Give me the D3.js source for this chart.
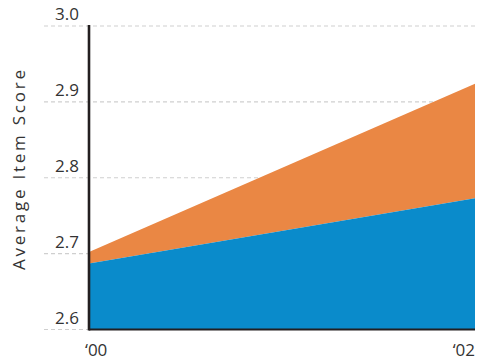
<!DOCTYPE html>
<html>
<head>
<meta charset="utf-8">
<script src="https://cdn.jsdelivr.net/npm/d3@7"></script>
<style>
  html, body { margin: 0; padding: 0; background: #fff; }
  svg { display: block; }
  text { font-family: "Open Sans", Lato, "DejaVu Sans", sans-serif; fill: #333; }
</style>
</head>
<body>
<svg id="chart" width="477" height="362"></svg>
<script>
// Years on the x axis and their labels
const years = [2000, 2002];
const yearLabels = ["\u201800", "\u201802"];
// Average item score: lower (blue) series and upper (orange) series
const baseScores = [2.687, 2.773];
const topScores = [2.702, 2.924];
// Y axis ticks
const yTicks = [2.6, 2.7, 2.8, 2.9, 3.0];

const svg = d3.select("#chart");
const plotLeft = 89, plotRight = 475, plotTop = 26, plotBottom = 329.5;

const x = d3.scaleLinear().domain(d3.extent(years)).range([plotLeft, plotRight]);
const y = d3.scaleLinear().domain([2.6, 3.0]).range([plotBottom, plotTop]);

// Dashed gridlines
svg.append("g").selectAll("line").data(yTicks).join("line")
  .attr("x1", 44).attr("x2", plotRight)
  .attr("y1", d => y(d)).attr("y2", d => y(d))
  .attr("stroke", "#cfcfcf").attr("stroke-width", 1.2)
  .attr("stroke-dasharray", "4,3");

const rows = years.map((yr, i) => ({ yr, base: baseScores[i], upper: topScores[i] }));

// Orange band between the two series
svg.append("path").datum(rows)
  .attr("fill", "#EA8744")
  .attr("d", d3.area().x(d => x(d.yr)).y0(d => y(d.base)).y1(d => y(d.upper)));

// Blue area from the baseline up to the lower series
svg.append("path").datum(rows)
  .attr("fill", "#0A8BCB")
  .attr("d", d3.area().x(d => x(d.yr)).y0(y(2.6)).y1(d => y(d.base)));

// Axis lines
svg.append("line").attr("x1", plotLeft).attr("x2", plotRight)
  .attr("y1", plotBottom).attr("y2", plotBottom)
  .attr("stroke", "#231f20").attr("stroke-width", 2);
svg.append("line").attr("x1", plotLeft).attr("x2", plotLeft)
  .attr("y1", plotTop - 1).attr("y2", plotBottom + 1)
  .attr("stroke", "#231f20").attr("stroke-width", 2.6);

// Y tick labels
svg.append("g").selectAll("text").data(yTicks).join("text")
  .attr("x", 79).attr("y", d => y(d) - 6)
  .attr("text-anchor", "end")
  .attr("font-size", 17)
  .text(d => d.toFixed(1));

// X tick labels
svg.append("g").selectAll("text").data(years).join("text")
  .attr("x", (d, i) => i === 0 ? x(d) - 4 : x(d))
  .attr("y", 356)
  .attr("text-anchor", (d, i) => i === 0 ? "start" : "end")
  .attr("font-size", 17)
  .text((d, i) => yearLabels[i]);

// Y axis title
svg.append("text")
  .attr("transform", "translate(25, 170) rotate(-90)")
  .attr("text-anchor", "middle")
  .attr("font-size", 17)
  .attr("textLength", 200)
  .attr("lengthAdjust", "spacing")
  .text("Average Item Score");
</script>
</body>
</html>
